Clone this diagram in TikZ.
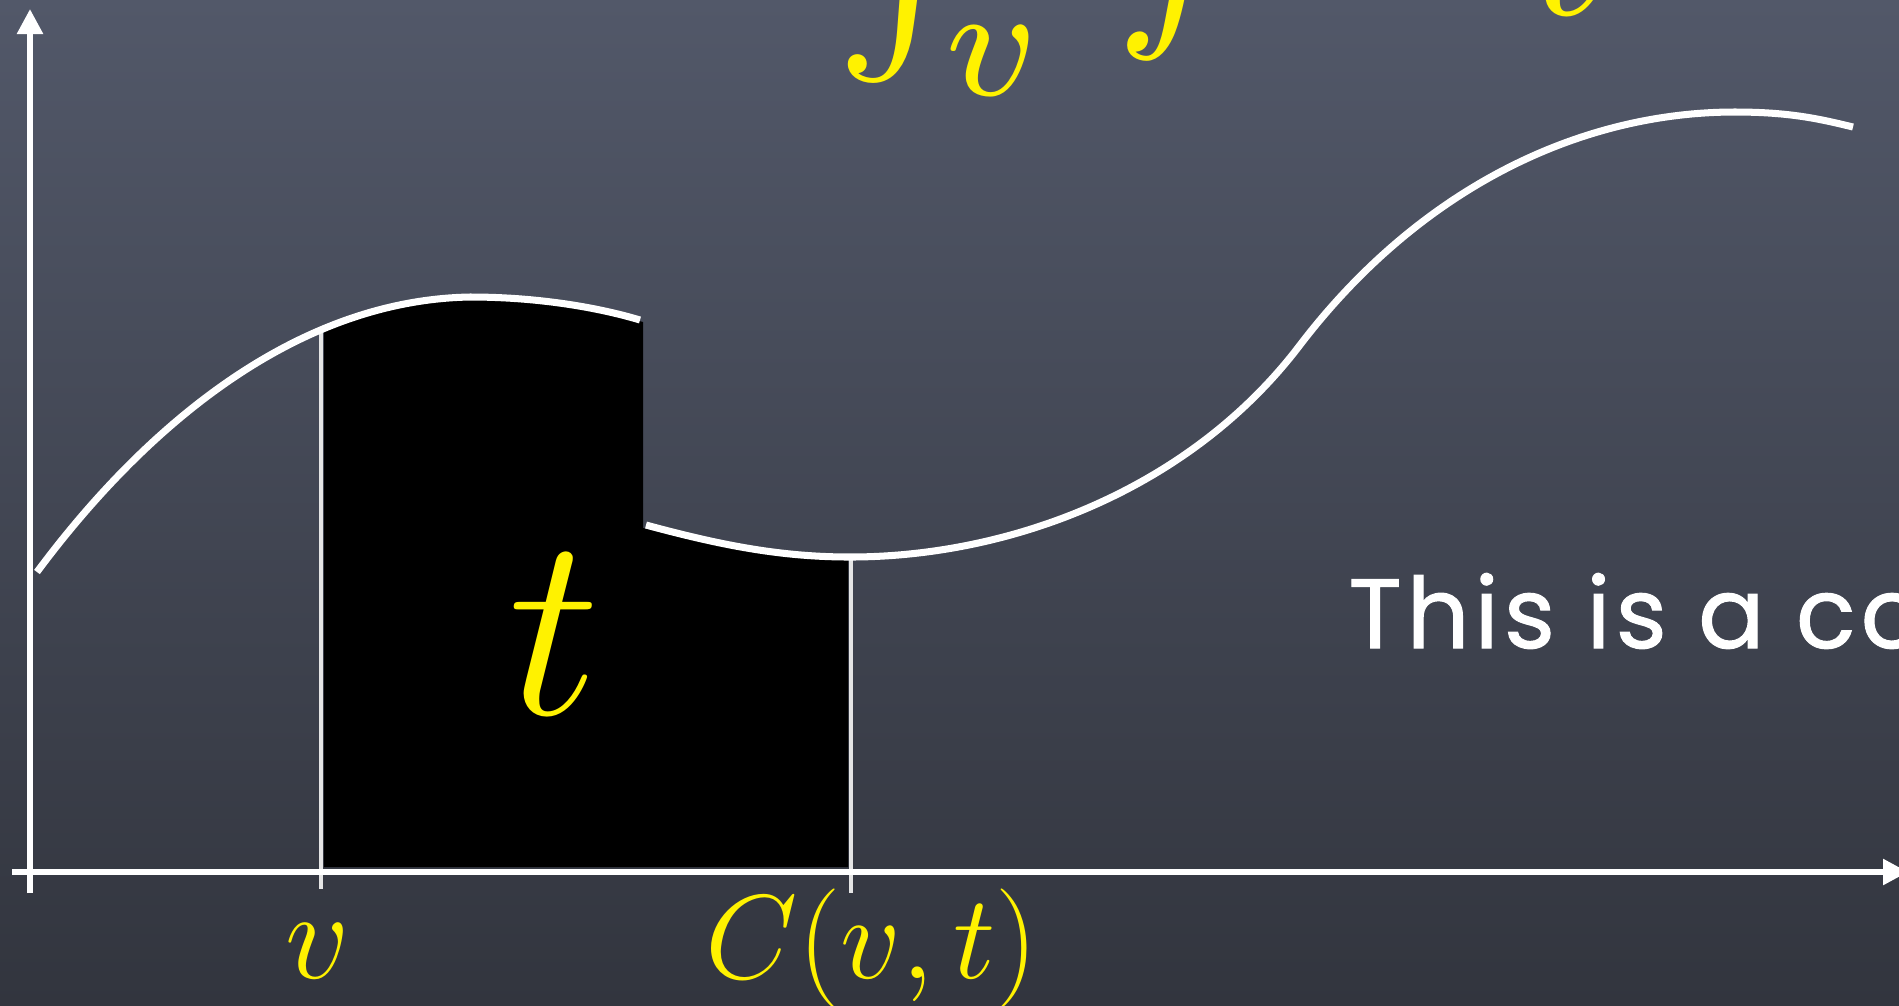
\RequirePackage{fix-cm}
\documentclass[tikz,border=0pt]{standalone}
\usepackage{fontspec}
\newfontfamily\chalk[LetterSpace=5,FakeBold=1]{Poppins}
\usetikzlibrary{arrows.meta}
\definecolor{chalkyellow}{RGB}{255,242,0}
\definecolor{boardtop}{RGB}{82,88,105}
\definecolor{boardbot}{RGB}{50,53,62}
\begin{document}
\begin{tikzpicture}[x=.01cm,y=-.01cm,line width=2pt,
  axis/.style={white,line width=1.6pt,-{Triangle[length=.25cm,width=.25cm]}},
  guide/.style={white!80!gray,line width=.9pt},
  lbl/.style={chalkyellow,inner sep=0pt,anchor=base}]
  \useasboundingbox (0,0) rectangle (1899,1005);
  \clip (0,0) rectangle (1899,1005);
  \shade[top color=boardtop,bottom color=boardbot] (0,0) rectangle (1899,1005);
  \coordinate (vtop) at (321,327);
  \coordinate (vbot) at (321,889);
  \coordinate (ctop) at (851,560);
  \coordinate (cbot) at (851,893);
  % shaded area, left strip lifted
  \fill[black] (324,867) -- (324,329) .. controls (370,309) and (420,298) .. (470,299)
    .. controls (540,299) and (600,310) .. (643,322) -- (643,528)
    .. controls (720,548) and (780,559) .. (848,559) -- (848,867) -- cycle;
  \draw[guide] (vtop) -- (vbot);
  \draw[guide] (ctop) -- (cbot);
  \draw[axis] (30,893) -- (30,9);
  \draw[axis] (12,872) -- (1908,872);
  % the graph
  \draw[white] (37,572) .. controls (150,420) and (300,300) .. (470,297)
    .. controls (540,297) and (600,308) .. (640,320);
  \draw[white] (646,525) .. controls (720,545) and (780,557) .. (850,557)
    .. controls (1010,557) and (1190,490) .. (1300,345)
    .. controls (1420,188) and (1580,112) .. (1735,112)
    .. controls (1790,112) and (1820,119) .. (1853,127);
  \node[lbl,font=\fontsize{74}{80}\selectfont] (tlab) at (555,714) {$t$};
  \node[lbl,font=\fontsize{36}{40}\selectfont] (vlab) at (318,978) {$v$};
  \node[lbl,font=\fontsize{34}{37}\selectfont] (clab) at (872,978) {$C(v,t)$};
  \node[lbl,anchor=base west] (area) at (832,14) {\scalebox{6.5}{$\int_v\mkern2mu f\mkern-2mu = t$}};
  \node[white,inner sep=0pt,anchor=base west,font=\chalk\fontsize{28}{32}\selectfont] (note) at (1345,648) {This is a co};
\end{tikzpicture}
\end{document}
